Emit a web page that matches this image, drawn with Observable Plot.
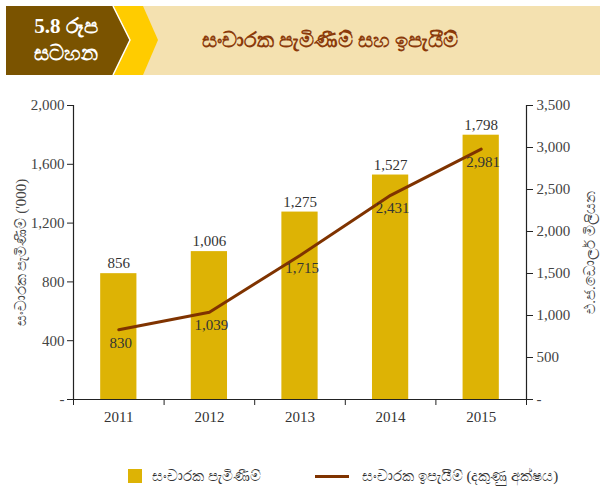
<!DOCTYPE html>
<html>
<head>
<meta charset="utf-8">
<script src="https://cdn.jsdelivr.net/npm/d3@7"></script>
<script src="https://cdn.jsdelivr.net/npm/@observablehq/plot@0.6"></script>
<style>
  html, body { margin: 0; padding: 0; background: #fff; }
  body { width: 602px; height: 500px; position: relative; overflow: hidden; font-family: "Liberation Serif", "Noto Sans", serif; }
  #header { position: absolute; left: 0; top: 0; }
  #chart { position: absolute; left: 0; top: 85px; }
  #legend { position: absolute; top: 466px; left: 0; width: 602px; height: 22px; font-size: 15px; color: #333; }
  .sw { position: absolute; }
  .lt { position: absolute; top: 0; line-height: 20px; }
</style>
</head>
<body>
<svg id="header" width="602" height="80">
  <rect x="6" y="6" width="594" height="69" fill="#F4E1B0"/>
  <polygon points="113,6 143,6 158,40 143,75 113,75" fill="#FFCC00"/>
  <polygon points="6,6 113,6 130,40 113,75 6,75" fill="#7A5300"/>
  <polyline points="113,6 130,40 113,75" fill="none" stroke="#fff" stroke-width="1.5"/>
  <text x="66" y="33" text-anchor="middle" fill="#fff" font-size="21" font-weight="bold" font-family="Liberation Serif, serif">5.8 රූප</text>
  <text x="66" y="60" text-anchor="middle" fill="#fff" font-size="21" font-weight="bold" font-family="Liberation Serif, serif">සටහන</text>
  <text x="330" y="47" text-anchor="middle" fill="#8B3A0A" font-size="21" font-weight="bold" font-family="Liberation Serif, serif">සංචාරක පැමිණීම් සහ ඉපැයීම්</text>
</svg>
<div id="chart"></div>
<div id="legend">
  <div class="sw" style="left:128px; top:3px; width:14px; height:14px; background:#DDB305;"></div>
  <div class="lt" style="left:152px;">සංචාරක පැමිණීම්</div>
  <div class="sw" style="left:315px; top:9px; width:34px; height:3px; background:#7F3300;"></div>
  <div class="lt" style="left:362px;">සංචාරක ඉපැයීම් (දකුණු අක්ෂය)</div>
</div>
<script>
const years = [2011, 2012, 2013, 2014, 2015];
const arrivals = [856, 1006, 1275, 1527, 1798];      // '000, left axis
const earnings = [830, 1039, 1715, 2431, 2981];      // US$ mn, right axis
const leftTicks = [0, 400, 800, 1200, 1600, 2000];
const rightTicks = [0, 500, 1000, 1500, 2000, 2500, 3000, 3500];

const leftMax = 2000, rightMax = 3500;
const k = leftMax / rightMax;
const fmt = d => d === 0 ? "-" : d3.format(",")(d);

const data = years.map((y, i) => ({year: y, arrivals: arrivals[i], earnings: earnings[i], eScaled: earnings[i] * k}));
const x0 = d3.min(years) - 0.5, x1 = d3.max(years) + 0.5;
const bounds = d3.range(x0, x1 + 0.01, 1);
const halfBar = 0.2;

const textColor = "#333";
const chart = Plot.plot({
  width: 602,
  height: 345,
  marginLeft: 73,
  marginRight: 76,
  marginTop: 20,
  marginBottom: 31,
  style: {fontFamily: "Liberation Serif, serif", fontSize: "15px", color: textColor, background: "transparent"},
  x: {domain: [x0, x1]},
  y: {domain: [0, leftMax]},
  marks: [
    Plot.rectY(data, {x1: d => d.year - halfBar, x2: d => d.year + halfBar, y: "arrivals", fill: "#DDB305"}),
    Plot.text(data, {x: "year", y: "arrivals", text: d => fmt(d.arrivals), dy: -10, fill: textColor, fontSize: 15}),
    Plot.line(data, {x: "year", y: "eScaled", stroke: "#7F3300", strokeWidth: 3}),
    Plot.text(data, {x: "year", y: "eScaled", text: d => fmt(d.earnings), dy: 13, dx: 2, fill: textColor, fontSize: 15}),
    Plot.ruleY([0], {stroke: "#222", strokeWidth: 1.2}),
    Plot.ruleX([x0, x1], {y1: 0, y2: leftMax, stroke: "#222", strokeWidth: 1.2}),
    Plot.axisX({ticks: bounds, tickFormat: () => "", tickSize: 6, stroke: "#222", label: null}),
    Plot.axisX({ticks: years, tickFormat: d => String(d), tickSize: 0, tickPadding: 12, label: null, fill: textColor, fontSize: 15}),
    Plot.axisY({anchor: "left", ticks: leftTicks, tickFormat: fmt, tickSize: 6, tickPadding: 3, stroke: "#222",
      label: "සංචාරක පැමිණීම් ('000)", labelAnchor: "center", labelArrow: "none", labelOffset: 58, fill: "#444", fontSize: 15}),
    Plot.axisY({anchor: "right", ticks: rightTicks.map(t => t * k), tickFormat: d => fmt(Math.round(d / k)), tickSize: 6, tickPadding: 4, stroke: "#222",
      label: "එ.ජ.ඩොලර් මිලියන", labelAnchor: "center", labelArrow: "none", labelOffset: 68, fill: "#444", fontSize: 15})
  ]
});
document.getElementById("chart").appendChild(chart);
</script>
</body>
</html>
